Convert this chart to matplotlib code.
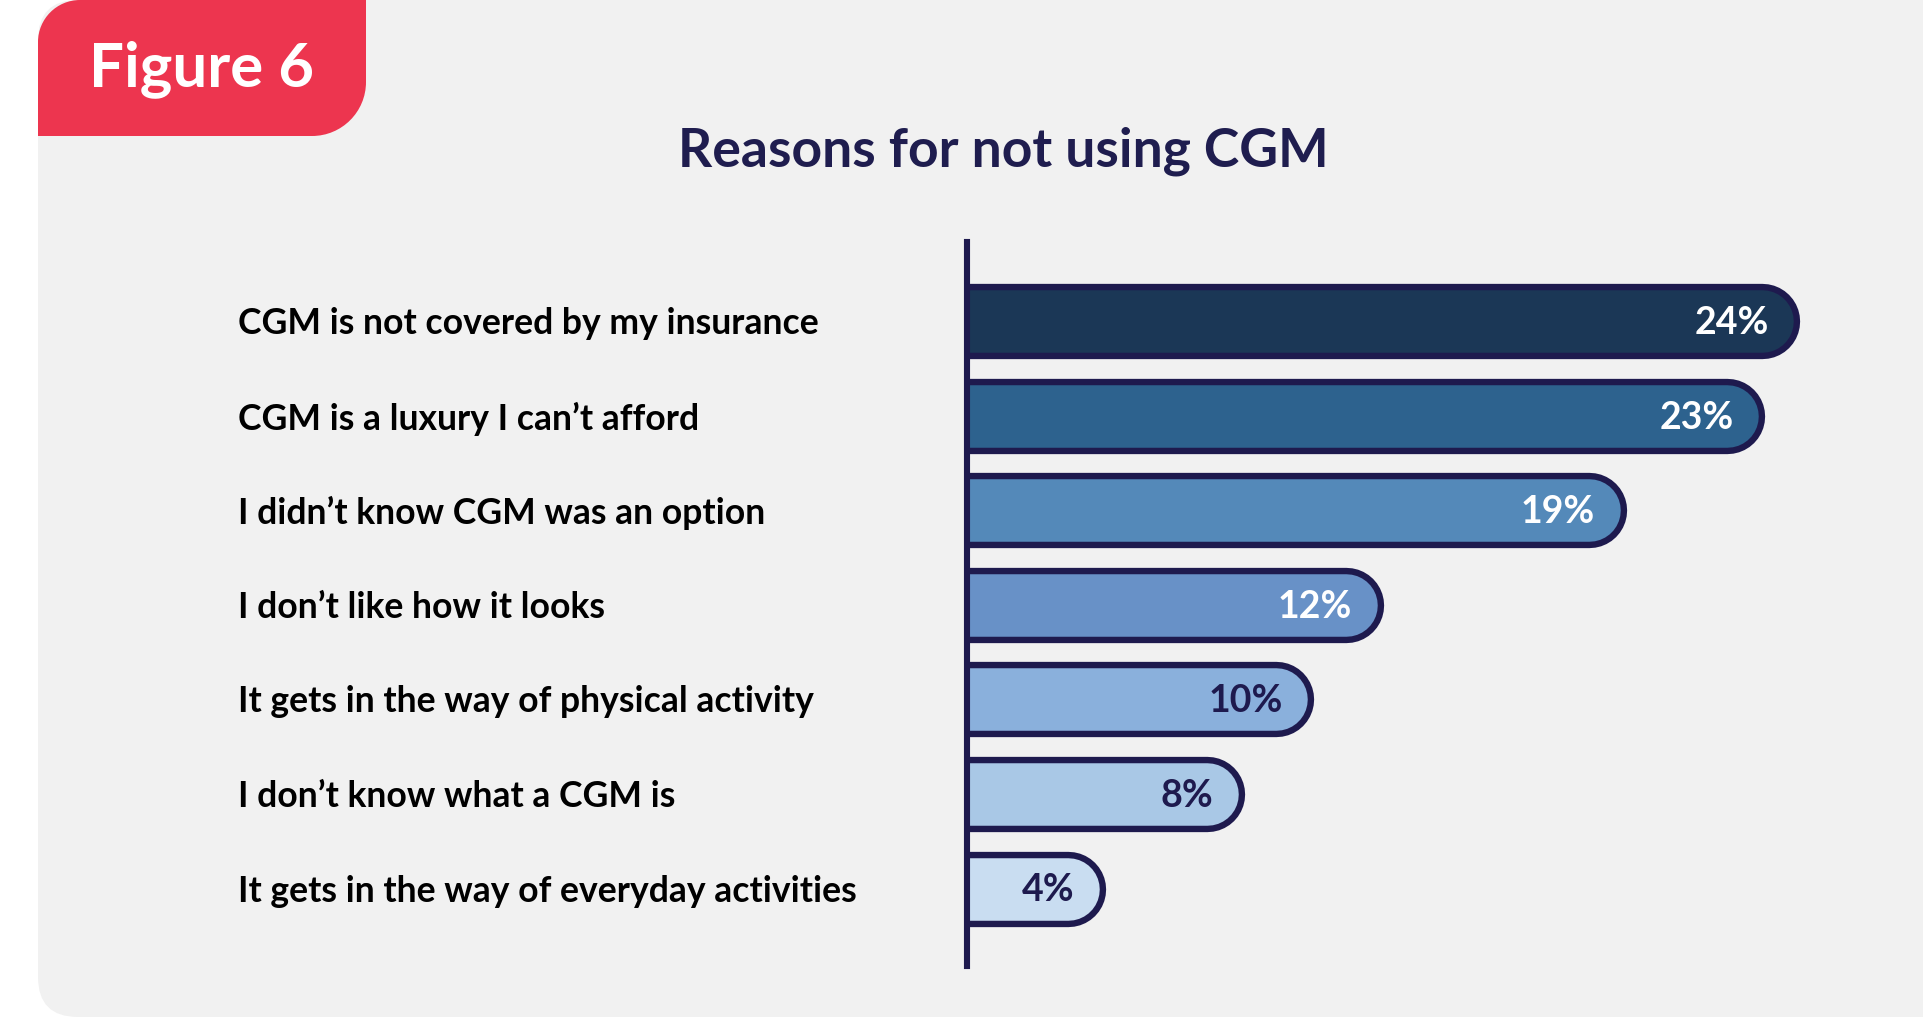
import matplotlib
matplotlib.use('Agg')
import matplotlib.pyplot as plt
from matplotlib.path import Path
from matplotlib.patches import PathPatch, FancyBboxPatch
import matplotlib.patheffects as pe
import matplotlib.transforms as mtransforms

# ---------------- data ----------------
categories = [
    "CGM is not covered by my insurance",
    "CGM is a luxury I can\u2019t afford",
    "I didn\u2019t know CGM was an option",
    "I don\u2019t like how it looks",
    "It gets in the way of physical activity",
    "I don\u2019t know what a CGM is",
    "It gets in the way of everyday activities",
]
values = [24, 23, 19, 12, 10, 8, 4]
value_labels = ["24%", "23%", "19%", "12%", "10%", "8%", "4%"]
bar_colors = ["#1b3756", "#2d628e", "#5489b9", "#6891c7", "#8ab0dc", "#a9c8e6", "#c9ddf1"]
label_colors = ["white", "white", "white", "white", "#1e1a4e", "#1e1a4e", "#1e1a4e"]
title = "Reasons for not using CGM"
tag_text = "Figure 6"

NAVY = "#1e1a4e"
TITLE_C = "#1f1d4f"
RED = "#ed354f"
PANEL = "#f1f1f1"
FONT = ["Lato", "DejaVu Sans"]

W, H = 1924, 1017
DPI = 100
fig = plt.figure(figsize=(W / DPI, H / DPI), dpi=DPI, facecolor="white")

# background overlay in pixel coordinates
bg = fig.add_axes([0, 0, 1, 1])
bg.set_xlim(0, W)
bg.set_ylim(H, 0)
bg.axis("off")

panel = FancyBboxPatch((38, 0), 2200, H, boxstyle="round,pad=0,rounding_size=40",
                       facecolor=PANEL, edgecolor="none")
bg.add_patch(panel)

# red tag: rounded top-left and bottom-right corners
x0, x1, y0, y1 = 38, 366, 0, 136
r1, r2 = 42, 54
k = 0.5523
verts = [
    (x0 + r1, y0),
    (x1, y0),
    (x1, y1 - r2),
    (x1, y1 - r2 + k * r2), (x1 - r2 + k * r2, y1), (x1 - r2, y1),
    (x0, y1),
    (x0, y0 + r1),
    (x0, y0 + r1 - k * r1), (x0 + r1 - k * r1, y0), (x0 + r1, y0),
    (x0 + r1, y0),
]
codes = [Path.MOVETO, Path.LINETO, Path.LINETO,
         Path.CURVE4, Path.CURVE4, Path.CURVE4,
         Path.LINETO, Path.LINETO,
         Path.CURVE4, Path.CURVE4, Path.CURVE4,
         Path.CLOSEPOLY]
bg.add_patch(PathPatch(Path(verts, codes), facecolor=RED, edgecolor="none"))
bg.text(202, 69, tag_text, color="white", fontsize=44.5, fontweight="bold",
        family=FONT, ha="center", va="center")

bg.text(1003, 151, title, color=TITLE_C, fontsize=38.5, fontweight="bold",
        family=FONT, ha="center", va="center")

# ---------------- bar axes ----------------
px_per_unit = 34.7
xmax = 26
ax_left, ax_top, ax_bot = 967, 242, 966
ax = fig.add_axes([ax_left / W, 1 - ax_bot / H, xmax * px_per_unit / W, (ax_bot - ax_top) / H])
ax.set_facecolor("none")
ax.set_xlim(0, xmax)
ax.set_ylim(6.82, -0.841)
for s in ["top", "right", "bottom"]:
    ax.spines[s].set_visible(False)
ax.spines["left"].set_color(NAVY)
ax.spines["left"].set_linewidth(4.4)
ax.spines["left"].set_zorder(5)
ax.set_xticks([])
ax.set_yticks([])

LW = 45.0      # fill thickness (pt)
STROKE = 4.6   # outline thickness each side (pt)
outer_px = (LW + 2 * STROKE) * DPI / 72.0
p0 = ax.transData.transform((0, 0))[0]
p1 = ax.transData.transform((1, 0))[0]
r_data = (outer_px / 2) / (p1 - p0)

for i, (v, c) in enumerate(zip(values, bar_colors)):
    ln, = ax.plot([0, v - r_data], [i, i], color=c, linewidth=LW,
                  solid_capstyle="round", zorder=2)
    ln.set_path_effects([pe.Stroke(linewidth=LW + 2 * STROKE, foreground=NAVY),
                         pe.Normal()])
    ax.annotate(value_labels[i], xy=(v, i), xytext=(-22.3, -1.2), textcoords="offset points",
                ha="right", va="center", color=label_colors[i], fontsize=27,
                fontweight="bold", family=FONT, zorder=4)

shift = mtransforms.ScaledTranslation(0, -2.5 / DPI, fig.dpi_scale_trans)
trans = mtransforms.blended_transform_factory(bg.transData, ax.transData) + shift
for i, cat in enumerate(categories):
    fig.text(238, i, cat, transform=trans, ha="left", va="center", color="black",
             fontsize=25.6, fontweight="bold", family=FONT)

fig.savefig("out.png", dpi=DPI, facecolor="white")
